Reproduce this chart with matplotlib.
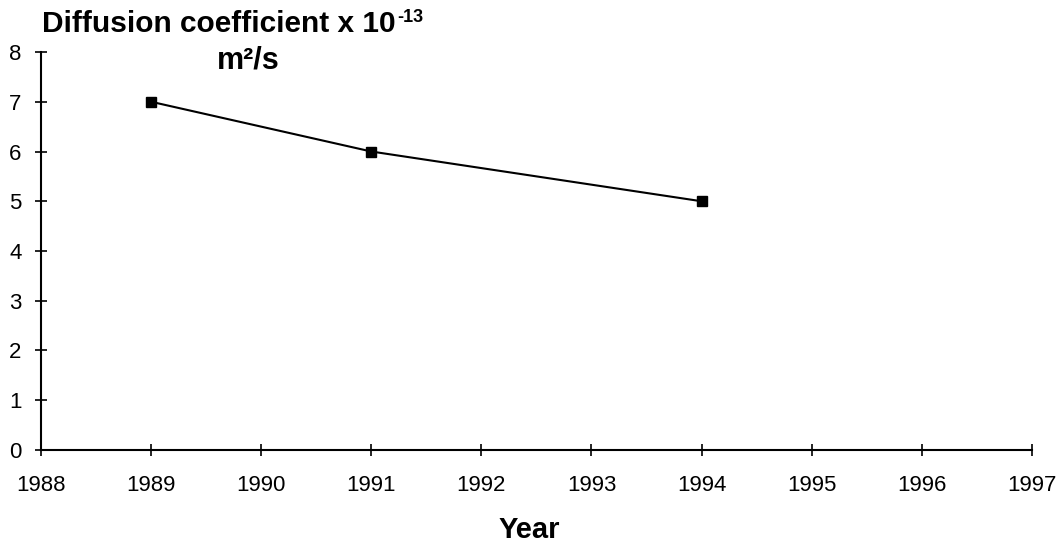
import matplotlib.pyplot as plt

years = [1989, 1991, 1994]
diffusion = [7, 6, 5]
x_ticks = list(range(1988, 1998))
y_ticks = list(range(0, 9))

plt.rcParams['font.family'] = ['Liberation Sans', 'DejaVu Sans']

fig = plt.figure(figsize=(10.62, 5.44), dpi=100)
ax = fig.add_axes([0.0386, 0.1728, 0.933, 0.7316])

ax.plot(years, diffusion, color='black', linewidth=1.5, marker='s',
        markersize=7, markerfacecolor='black')

ax.set_xlim(1988, 1997)
ax.set_ylim(0, 8)
ax.set_xticks(x_ticks)
ax.set_yticks(y_ticks)
ax.tick_params(direction='inout', length=8, width=1.2, labelsize=16)
ax.tick_params(axis='x', pad=14)
ax.tick_params(axis='y', pad=10)

for side in ['top', 'right']:
    ax.spines[side].set_visible(False)
for side in ['left', 'bottom']:
    ax.spines[side].set_linewidth(1.5)

# title: "10" followed by a small raised "-13"
title = fig.text(0.040, 0.955, 'Diffusion coefficient x 10',
                 fontsize=21.5, fontweight='bold', va='center', ha='left')
ax.annotate('-13', xy=(1, 1), xycoords=title, xytext=(0.5, 1),
            textcoords='offset points', fontsize=13, fontweight='bold',
            va='top', ha='left', annotation_clip=False)
fig.text(0.2335, 0.888, 'm²/s', fontsize=22, fontweight='bold',
         va='center', ha='center')
fig.text(0.498, 0.026, 'Year', fontsize=21, fontweight='bold',
         va='center', ha='center')

fig.savefig('out.png', dpi=100)
